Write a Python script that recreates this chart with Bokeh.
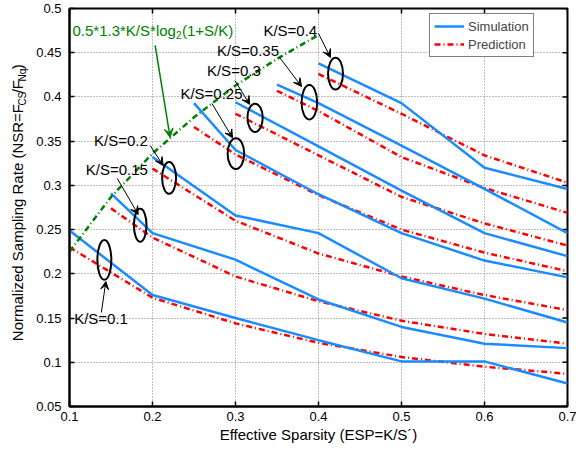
import math
from bokeh.plotting import figure
from bokeh.layouts import row
from bokeh.models import (FixedTicker, Label, Arrow, VeeHead, Legend, LegendItem, Range1d)
from bokeh.core.properties import value
from bokeh.embed import file_html
from bokeh.resources import INLINE

# ---------------- data ----------------
ks_values = [0.1, 0.15, 0.2, 0.25, 0.3, 0.35, 0.4]

sim_x = [
    [0.1, 0.2, 0.3, 0.4, 0.5, 0.6, 0.7],
    [0.15, 0.2, 0.3, 0.4, 0.5, 0.6, 0.7],
    [0.2, 0.3, 0.4, 0.5, 0.6, 0.7],
    [0.25, 0.3, 0.4, 0.5, 0.6, 0.7],
    [0.3, 0.4, 0.5, 0.6, 0.7],
    [0.35, 0.4, 0.5, 0.6, 0.7],
    [0.4, 0.5, 0.6, 0.7],
]
sim_y = [
    [0.249, 0.176, 0.150, 0.125, 0.101, 0.101, 0.076],
    [0.291, 0.246, 0.216, 0.171, 0.140, 0.121, 0.116],
    [0.332, 0.266, 0.246, 0.195, 0.172, 0.145],
    [0.393, 0.340, 0.290, 0.246, 0.215, 0.196],
    [0.394, 0.344, 0.294, 0.246, 0.220],
    [0.414, 0.393, 0.345, 0.296, 0.246],
    [0.438, 0.393, 0.320, 0.296],
]
pred_x = sim_x
pred_y = [
    [0.230, 0.173, 0.144, 0.122, 0.106, 0.095, 0.087],
    [0.274, 0.241, 0.197, 0.169, 0.147, 0.132, 0.121],
    [0.319, 0.260, 0.223, 0.197, 0.176, 0.159],
    [0.366, 0.335, 0.289, 0.250, 0.224, 0.203],
    [0.381, 0.334, 0.287, 0.257, 0.232],
    [0.407, 0.384, 0.332, 0.297, 0.269],
    [0.426, 0.381, 0.334, 0.303],
]
bound_x = [0.1, 0.15, 0.2, 0.25, 0.3, 0.35, 0.4]
bound_y = [0.225, 0.287, 0.336, 0.377, 0.413, 0.443, 0.470]

x_ticks = [0.1, 0.2, 0.3, 0.4, 0.5, 0.6, 0.7]
x_tick_labels = ["0.1", "0.2", "0.3", "0.4", "0.5", "0.6", "0.7"]
y_ticks = [0.05, 0.1, 0.15, 0.2, 0.25, 0.3, 0.35, 0.4, 0.45, 0.5]
y_tick_labels = ["0.05", "0.1", "0.15", "0.2", "0.25", "0.3", "0.35", "0.4", "0.45", "0.5"]
x_title = "Effective Sparsity (ESP=K/S\u00b4)"
y_title_parts = ["Normalized Sampling Rate (NSR=F", "CS", "/F", "Nq", ")"]

# annotations: label text, label pos, arrow start, arrow end, ellipse center / size
ann_text = ["K/S=0.1", "K/S=0.15", "K/S=0.2", "K/S=0.25", "K/S=0.3", "K/S=0.35", "K/S=0.4"]
ann_label_xy = [(0.1056, 0.1492), (0.1196, 0.318), (0.1296, 0.3508), (0.2336, 0.4036),
                (0.2656, 0.4299), (0.2776, 0.4525), (0.3336, 0.4752)]
ann_arrow_from = [(0.1384, 0.1563), (0.1576, 0.3078), (0.1972, 0.3451), (0.2716, 0.3926),
                  (0.2992, 0.4186), (0.3532, 0.4446), (0.4000, 0.4718)]
ann_arrow_to = [(0.1438, 0.1913), (0.1828, 0.2671), (0.2128, 0.3225), (0.2964, 0.3538),
                (0.3172, 0.3915), (0.3796, 0.4118), (0.4144, 0.4446)]
ell_x = [0.142, 0.1852, 0.220, 0.3005, 0.3236, 0.389, 0.4205]
ell_y = [0.2157, 0.255, 0.3085, 0.336, 0.3764, 0.394, 0.4264]
ell_w = [0.0168, 0.0152, 0.0168, 0.0200, 0.0184, 0.0188, 0.0180]
ell_h = [0.0450, 0.0373, 0.0360, 0.0347, 0.0320, 0.0388, 0.0360]

FONT = "Liberation Sans"
BLUE = "#1a8cff"
RED = "#ff0000"
GREEN = "#008000"
X0, X1 = 0.1, 0.7
Y0, Y1 = 0.05, 0.5

p = figure(width=543, height=450, x_range=Range1d(X0, X1), y_range=Range1d(Y0, Y1),
           output_backend="svg", toolbar_location=None,
           min_border_left=34, min_border_right=9, min_border_top=8, min_border_bottom=44)
p.outline_line_color = "black"
p.outline_line_width = 2
p.background_fill_color = "white"
p.border_fill_color = "white"

# axes
for ax, ticks, labs in ((p.xaxis[0], x_ticks, x_tick_labels), (p.yaxis[0], y_ticks, y_tick_labels)):
    ax.ticker = FixedTicker(ticks=ticks)
    ax.major_label_overrides = dict(zip(ticks, labs))
    ax.major_label_text_font = FONT
    ax.major_label_text_font_size = "13px"
    ax.major_label_text_color = "black"
    ax.major_tick_in = 5
    ax.major_tick_out = 0
    ax.major_tick_line_width = 1.5
    ax.minor_tick_line_color = None
    ax.axis_line_width = 2
    ax.axis_line_color = "black"
p.xaxis[0].major_label_standoff = 5
p.yaxis[0].major_label_standoff = 8
p.xaxis[0].axis_label = x_title
p.xaxis[0].axis_label_text_font = FONT
p.xaxis[0].axis_label_text_font_size = "15px"
p.xaxis[0].axis_label_text_font_style = "normal"
p.xaxis[0].axis_label_text_color = "black"
p.xaxis[0].axis_label_standoff = 2

# mirrored inward ticks on top and right (half of each dash is clipped by the frame)
p.scatter(x=x_ticks, y=[Y1] * len(x_ticks), marker="dash", size=10, angle=math.pi / 2,
          line_color="black", line_width=1.5)
p.scatter(x=[X1] * len(y_ticks), y=y_ticks, marker="dash", size=10,
          line_color="black", line_width=1.5)

p.xgrid.ticker = FixedTicker(ticks=x_ticks)
p.ygrid.ticker = FixedTicker(ticks=y_ticks)
for g in (p.xgrid[0], p.ygrid[0]):
    g.grid_line_color = "#7f7f7f"
    g.grid_line_dash = "1 2"
    g.grid_line_width = 1

# series
sim_r = []
pred_r = []
for xs, ys in zip(pred_x, pred_y):
    pred_r.append(p.line(xs, ys, line_color=RED, line_width=2.5, line_dash="6 3 1 3"))
for xs, ys in zip(sim_x, sim_y):
    sim_r.append(p.line(xs, ys, line_color=BLUE, line_width=2.5))
p.line(bound_x, bound_y, line_color=GREEN, line_width=2.5, line_dash="6 3 1 3")

# ellipses
p.ellipse(x=ell_x, y=ell_y, width=ell_w, height=ell_h, fill_color=None,
          line_color="black", line_width=2)

# annotation arrows and labels
for (x0, y0), (x1, y1) in zip(ann_arrow_from, ann_arrow_to):
    p.add_layout(Arrow(end=VeeHead(size=8, fill_color="black", line_color="black", line_width=1),
                       x_start=x0, y_start=y0, x_end=x1, y_end=y1,
                       line_color="black", line_width=1))
for txt, (lx, ly) in zip(ann_text, ann_label_xy):
    p.add_layout(Label(x=lx, y=ly, text=txt, text_font=FONT, text_font_size="15px",
                       text_baseline="middle", text_align="left", text_color="black"))

# green formula label and arrow
p.add_layout(Arrow(end=VeeHead(size=9, fill_color=GREEN, line_color=GREEN, line_width=1),
                   x_start=0.2032, y_start=0.4582, x_end=0.2212, y_end=0.3542,
                   line_color=GREEN, line_width=1.5))
gx, gy = 0.1036, 0.4752
p.add_layout(Label(x=gx, y=gy, text="0.5*1.3*K/S*log", text_font=FONT, text_font_size="15px",
                   text_baseline="middle", text_align="left", text_color=GREEN))
p.add_layout(Label(x=gx, y=gy, x_offset=103.5, y_offset=-5, text="2", text_font=FONT,
                   text_font_size="10px", text_baseline="middle", text_align="left",
                   text_color=GREEN))
p.add_layout(Label(x=gx, y=gy, x_offset=109.5, text="(1+S/K)", text_font=FONT,
                   text_font_size="15px", text_baseline="middle", text_align="left",
                   text_color=GREEN))

# legend
legend = Legend(items=[LegendItem(label="Simulation", renderers=[sim_r[0]]),
                       LegendItem(label="Prediction", renderers=[pred_r[0]])],
                location=(360, 349), label_text_font=FONT, label_text_font_size="13px",
                glyph_width=30, glyph_height=16, label_height=16, label_standoff=4,
                spacing=2, padding=4, margin=0, border_line_color="black",
                border_line_width=1, background_fill_color="white", background_fill_alpha=1)
p.add_layout(legend)

# y-axis title (with subscripts) in a narrow side figure, 1 unit = 1 px.
# Each piece is anchored at its END (top), chained downward from the top.
fy = figure(width=33, height=450, x_range=Range1d(0, 33), y_range=Range1d(0, 450),
            output_backend="svg", toolbar_location=None, min_border=0, title=None,
            x_axis_location=None, y_axis_location=None)
fy.grid.visible = False
fy.outline_line_color = None
yt_pos = [(17, 342.0, "15px"), (22, 355.9, "10px"), (17, 369.2, "15px"),
          (22, 382.0, "10px"), (17, 387.0, "15px")]
for txt, (tx, ty, fs) in zip(y_title_parts, yt_pos):
    fy.text(x=[tx], y=[ty], text=[txt], angle=math.pi / 2, text_font=value(FONT),
            text_font_size=value(fs), text_baseline="middle", text_align="right",
            text_color="black")

layout = row(fy, p)
open("out.html", "w").write(file_html(layout, INLINE))
